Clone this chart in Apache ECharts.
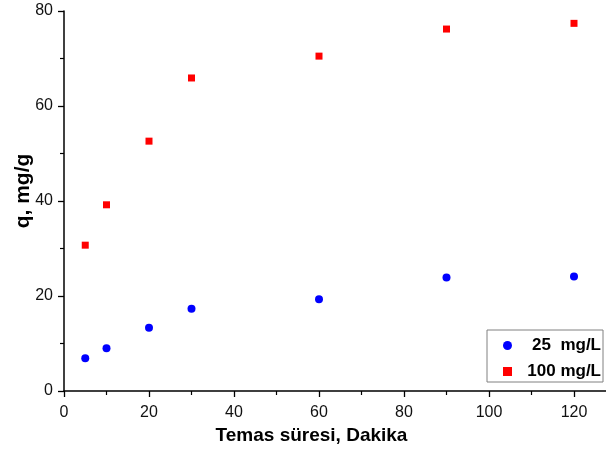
<!DOCTYPE html>
<html>
<head>
<meta charset="utf-8">
<script src="https://cdn.jsdelivr.net/npm/echarts@6/dist/echarts.min.js"></script>
<style>html,body{margin:0;padding:0;background:#fff}#c{width:606px;height:450px}</style>
</head>
<body>
<div id="c"></div>
<script>
const times = [5, 10, 20, 30, 60, 90, 120];
const q25 = [6.9, 9.0, 13.3, 17.3, 19.3, 23.9, 24.1];
const q100 = [30.7, 39.2, 52.6, 65.9, 70.5, 76.2, 77.4];
const seriesNames = ['25  mg/L', '100 mg/L'];
const xTitle = 'Temas süresi, Dakika';
const yTitle = 'q, mg/g';

const font = '"Liberation Sans", Arial, sans-serif';
const chart = echarts.init(document.getElementById('c'), null, {renderer: 'canvas'});
const axisCommon = {
  axisLine: {show: true, onZero: false, lineStyle: {color: '#000', width: 1.5}},
  axisTick: {show: true, inside: false, length: 6, lineStyle: {color: '#000', width: 1.3}},
  minorTick: {show: true, splitNumber: 2, length: 4, lineStyle: {color: '#000', width: 1.2}},
  splitLine: {show: false},
  axisLabel: {color: '#111', fontSize: 16, fontFamily: font},
  nameTextStyle: {color: '#000', fontWeight: 'bold', fontFamily: font}
};
chart.setOption({
  animation: false,
  grid: {left: 64, top: 11, bottom: 59, right: -53, outerBoundsMode: 'none', containLabel: false},
  xAxis: Object.assign({}, axisCommon, {
    type: 'value', min: 0, max: 140, interval: 20,
    name: xTitle, nameLocation: 'middle', nameGap: 34,
    nameTextStyle: Object.assign({}, axisCommon.nameTextStyle, {fontSize: 19, padding: [0, 100, 0, 0]}),
    axisLabel: Object.assign({}, axisCommon.axisLabel, {margin: 14})
  }),
  yAxis: Object.assign({}, axisCommon, {
    type: 'value', min: 0, max: 80, interval: 20,
    name: yTitle, nameLocation: 'middle', nameGap: 30, nameRotate: 90, nameMoveOverlap: false,
    nameTextStyle: Object.assign({}, axisCommon.nameTextStyle, {fontSize: 21, padding: [0, 0, 0, 20]}),
    axisLabel: Object.assign({}, axisCommon.axisLabel, {margin: 11})
  }),
  legend: {
    orient: 'vertical', left: 487, top: 330,
    borderColor: '#808080', borderWidth: 1, padding: [7, 2, 2, 16],
    itemGap: 9, itemWidth: 9, itemHeight: 9,
    data: [{name: seriesNames[0], icon: 'circle'}, {name: seriesNames[1], icon: 'rect'}],
    formatter: function (n) { return '{t|' + n + '}'; },
    textStyle: {rich: {t: {width: 84, align: 'right', fontSize: 17, fontWeight: 'bold', fontFamily: font, color: '#000'}}}
  },
  series: [
    {name: seriesNames[0], type: 'scatter', symbol: 'circle', symbolSize: 8,
     itemStyle: {color: '#0000ff', opacity: 1}, data: times.map((t, i) => [t, q25[i]])},
    {name: seriesNames[1], type: 'scatter', symbol: 'rect', symbolSize: 7,
     itemStyle: {color: '#ff0000', opacity: 1}, data: times.map((t, i) => [t, q100[i]])}
  ]
});
</script>
</body>
</html>
